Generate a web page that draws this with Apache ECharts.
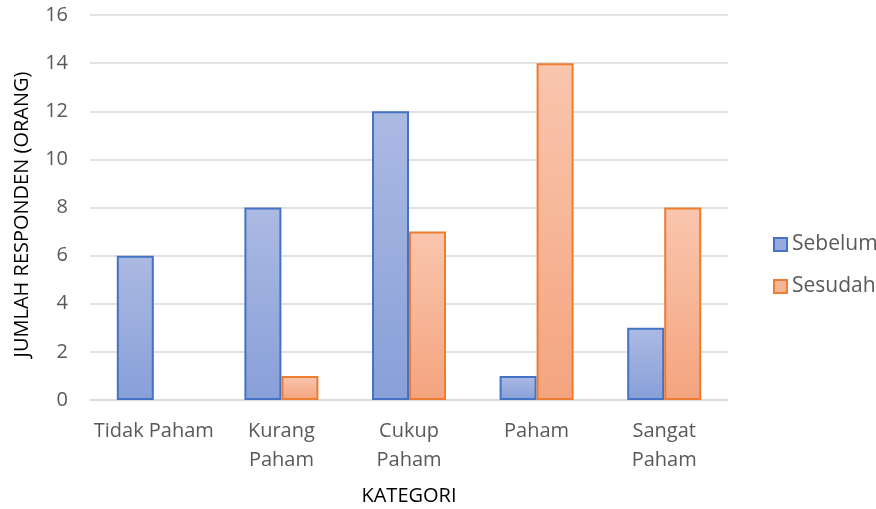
<!DOCTYPE html>
<html><head><meta charset="utf-8">
<script src="https://cdn.jsdelivr.net/npm/echarts@6/dist/echarts.min.js"></script>
<style>html,body{margin:0;padding:0;background:#fff}#c{width:876px;height:509px}</style>
</head><body><div id="c"></div>
<script>
const categories = ['Tidak Paham', 'Kurang\nPaham', 'Cukup\nPaham', 'Paham', 'Sangat\nPaham'];
const sebelum = [6, 8, 12, 1, 3];
const sesudah = [0, 1, 7, 14, 8];
const seriesNames = ['Sebelum', 'Sesudah'];
const yAxisName = 'JUMLAH RESPONDEN (ORANG)';
const xAxisName = 'KATEGORI';

const FONT = 'Open Sans';
const blueFill = new echarts.graphic.LinearGradient(0,0,0,1,[{offset:0,color:'#abbae2'},{offset:1,color:'#889fd8'}]);
const orangeFill = new echarts.graphic.LinearGradient(0,0,0,1,[{offset:0,color:'#f9c6ae'},{offset:1,color:'#f4a47f'}]);
// zero-height bars are not drawn in the reference
const hideZero = arr => arr.map(v => v === 0 ? null : v);

const chart = echarts.init(document.getElementById('c'), null, {renderer:'canvas'});
chart.setOption({
  animation:false,
  textStyle:{fontFamily:FONT},
  grid:{left:90, right:148, top:15, bottom:109, containLabel:false, outerBoundsMode:'none'},
  legend:{
    orient:'vertical', left:768, top:229, itemWidth:13, itemHeight:13, itemGap:21,
    textStyle:{fontSize:21, color:'#595959', fontFamily:FONT},
    data:[
      {name:seriesNames[0], icon:'rect', itemStyle:{color:'#98abdc', borderColor:'#4472c4', borderWidth:2}},
      {name:seriesNames[1], icon:'rect', itemStyle:{color:'#f6b596', borderColor:'#ed7d31', borderWidth:2}}
    ]
  },
  xAxis:{
    type:'category', data:categories,
    name:xAxisName, nameLocation:'middle', nameGap:86,
    nameTextStyle:{fontSize:20, color:'#000', fontFamily:FONT},
    axisLine:{lineStyle:{color:'#d9d9d9', width:1.5}},
    axisTick:{show:false},
    axisLabel:{fontSize:20, color:'#595959', lineHeight:29, margin:17, interval:0}
  },
  yAxis:{
    type:'value', min:0, max:16, interval:2,
    name:yAxisName, nameLocation:'middle', nameGap:58, nameRotate:90,
    nameTextStyle:{fontSize:20, color:'#000', fontFamily:FONT, padding:[0,0,0,-14]},
    axisLine:{show:false}, axisTick:{show:false},
    axisLabel:{fontSize:20, color:'#595959', margin:22},
    splitLine:{lineStyle:{color:'#d9d9d9', width:1.5}}
  },
  series:[
    {name:seriesNames[0], type:'bar', data:hideZero(sebelum), barGap:'0%', barCategoryGap:'42%',
     itemStyle:{color:blueFill, borderColor:'#4472c4', borderWidth:2}},
    {name:seriesNames[1], type:'bar', data:hideZero(sesudah), barGap:'0%', barCategoryGap:'42%',
     itemStyle:{color:orangeFill, borderColor:'#ed7d31', borderWidth:2}}
  ]
});
</script></body></html>
